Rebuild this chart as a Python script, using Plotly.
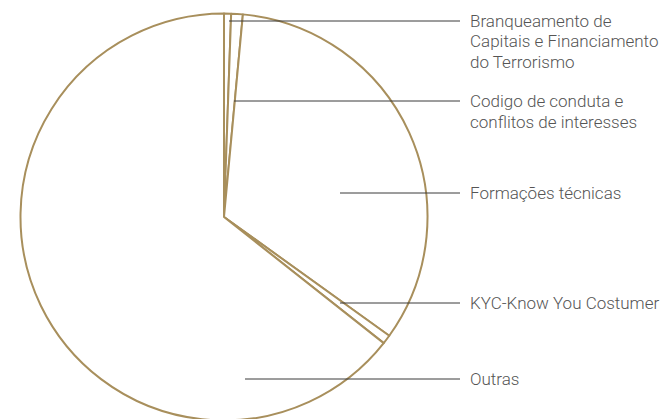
import plotly.graph_objects as go

# Training hours by subject (share of total, %)
labels = [
    "Branqueamento de<br>Capitais e Financiamento<br>do Terrorismo",
    "Codigo de conduta e<br>conflitos de interesses",
    "Formações técnicas",
    "KYC-Know You Costumer",
    "Outras",
]
values = [0.56, 0.92, 33.44, 0.72, 64.36]

# Layout geometry (pixels)
W, H = 665, 434
cx, cy, r = 224, 217, 203.5
# connector lines: (start x, y) inside the slice, ending just before the label
conn_start_x = [229, 234, 340, 340, 245]
conn_y = [21, 101, 193, 303, 379]
conn_end_x = 460
label_x = 468
line_step = 20.5

GOLD = "#A88F5C"
TEXT = "#555555"


def px(x):
    return x / W


def py(y):
    return 1 - y / H


fig = go.Figure(
    go.Pie(
        labels=[l.replace("<br>", " ") for l in labels],
        values=values,
        sort=False,
        direction="clockwise",
        rotation=0,
        textinfo="none",
        hoverinfo="label+percent",
        marker=dict(colors=["white"] * len(values), line=dict(color=GOLD, width=2)),
        domain=dict(x=[px(cx - r), px(cx + r)], y=[py(cy + r), py(cy - r)]),
    )
)

for lab, sx, y in zip(labels, conn_start_x, conn_y):
    fig.add_shape(
        type="line", xref="paper", yref="paper",
        x0=px(sx), x1=px(conn_end_x), y0=py(y), y1=py(y),
        line=dict(color="#3a3a3a", width=1),
    )
    # each text line placed on its own row so the row spacing stays tight
    for i, row in enumerate(lab.split("<br>")):
        fig.add_annotation(
            xref="paper", yref="paper", x=px(label_x), y=py(y + i * line_step),
            xanchor="left", yanchor="middle", align="left",
            text=row, showarrow=False,
            font=dict(family="Roboto, Liberation Sans, sans-serif", size=17, color=TEXT, weight=300),
        )

fig.update_layout(
    width=W, height=H,
    margin=dict(l=0, r=0, t=0, b=0),
    paper_bgcolor="white", plot_bgcolor="white",
    showlegend=False,
)

fig.write_html(
    "out.html",
    post_script="document.documentElement.style.overflow='hidden';document.body.style.overflow='hidden';",
)
